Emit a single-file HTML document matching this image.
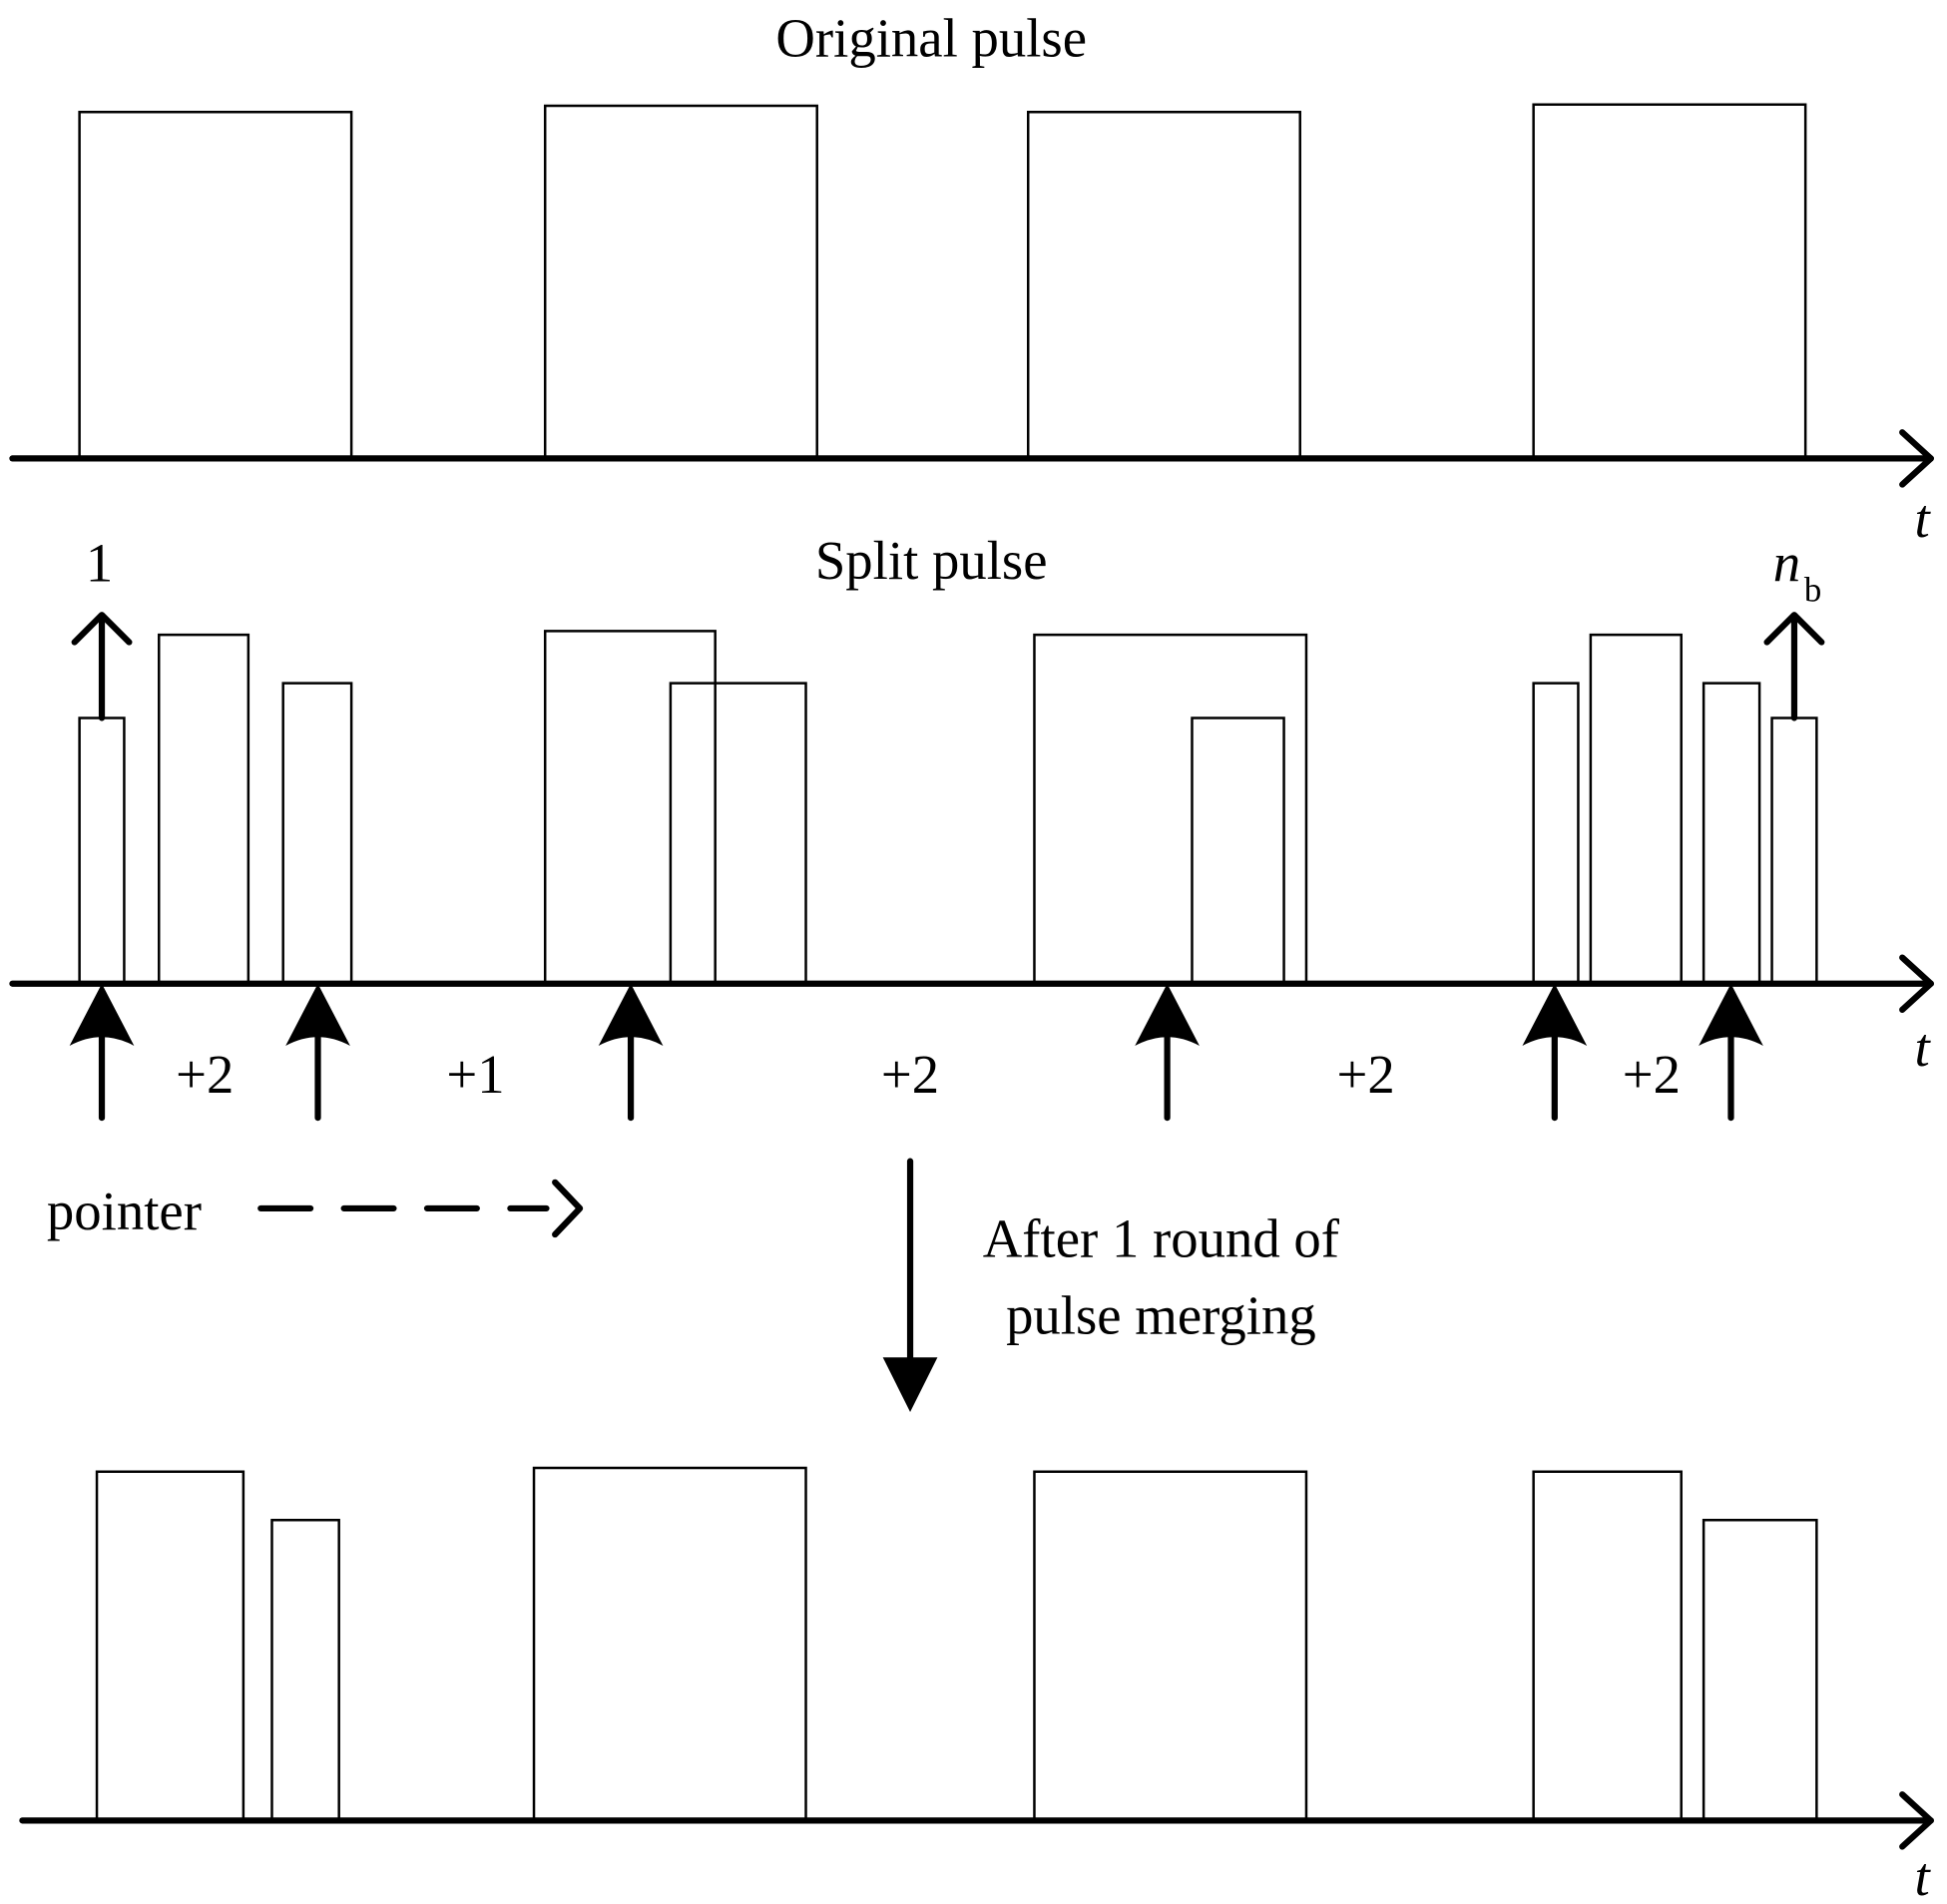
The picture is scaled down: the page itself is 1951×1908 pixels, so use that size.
<!DOCTYPE html>
<html><head><meta charset="utf-8"><style>html,body{margin:0;padding:0;background:#fff;}svg{display:block}</style></head>
<body>
<svg width="1951" height="1908" viewBox="0 0 1568 1533" xmlns="http://www.w3.org/2000/svg" font-family="'Liberation Serif', serif" fill="none">
<defs>
<g id="pa"><path d="M0,0 L-26,50 Q0,36 26,50 Z" fill="#000"/><line x1="0" y1="40" x2="0" y2="108" stroke="#000" stroke-width="5" stroke-linecap="round"/></g>
</defs>
<g stroke="#000" stroke-width="2">
<!-- top -->
<path d="M64,369V90H283V369M439,369V85H658V369M828,369V90H1047V369M1235,369V84H1454V369"/>
<!-- middle -->
<path d="M64,792V578H100V792M128,792V511H200V792M228,792V550H283V792M439,792V508H576V792M540,792V550H649V792M833,792V511H1052V792M960,792V578H1034V792M1235,792V550H1271V792M1281,792V511H1354V792M1372,792V550H1417V792M1427,792V578H1463V792"/>
<!-- bottom -->
<path d="M78,1466V1185H196V1466M219,1466V1224H273V1466M430,1466V1182H649V1466M833,1466V1185H1052V1466M1235,1466V1185H1354V1466M1372,1466V1224H1463V1466"/>
</g>
<g stroke="#000" stroke-width="5" stroke-linecap="round" stroke-linejoin="round">
<line x1="10" y1="369" x2="1555" y2="369"/><path d="M1532,348L1555,369L1532,390"/>
<line x1="10" y1="792" x2="1555" y2="792"/><path d="M1532,771L1555,792L1532,813"/>
<line x1="18" y1="1466" x2="1555" y2="1466"/><path d="M1532,1445L1555,1466L1532,1487"/>
<line x1="82" y1="578" x2="82" y2="497"/><path d="M60,517L82,495L104,517"/>
<line x1="1445" y1="578" x2="1445" y2="497"/><path d="M1423,517L1445,495L1467,517"/>
<line x1="210" y1="973" x2="440" y2="973" stroke-dasharray="40,27"/><path d="M447,952L467,973L447,994"/>
<line x1="733" y1="935" x2="733" y2="1095"/>
</g>
<path d="M733,1137L711,1093L755,1093Z" fill="#000"/>
<use href="#pa" x="82" y="792"/><use href="#pa" x="256" y="792"/><use href="#pa" x="508" y="792"/>
<use href="#pa" x="940" y="792"/><use href="#pa" x="1252" y="792"/><use href="#pa" x="1394" y="792"/>
<g fill="#000" font-size="44">
<text x="750" y="45" text-anchor="middle">Original pulse</text>
<text x="750" y="466" text-anchor="middle">Split pulse</text>
<text x="80" y="468" text-anchor="middle">1</text>
<text x="1428" y="468" font-style="italic">n</text><text x="1453" y="484" font-size="28">b</text>
<text x="1548" y="432" font-style="italic" text-anchor="middle">t</text>
<text x="1548" y="858" font-style="italic" text-anchor="middle">t</text>
<text x="1548" y="1526" font-style="italic" text-anchor="middle">t</text>
<text x="165" y="880" text-anchor="middle">+2</text>
<text x="383" y="880" text-anchor="middle">+1</text>
<text x="733" y="880" text-anchor="middle">+2</text>
<text x="1100" y="880" text-anchor="middle">+2</text>
<text x="1330" y="880" text-anchor="middle">+2</text>
<text x="100" y="990" text-anchor="middle">pointer</text>
<text x="935" y="1012" text-anchor="middle">After 1 round of</text>
<text x="935" y="1074" text-anchor="middle">pulse merging</text>
</g>
</svg>
</body></html>
